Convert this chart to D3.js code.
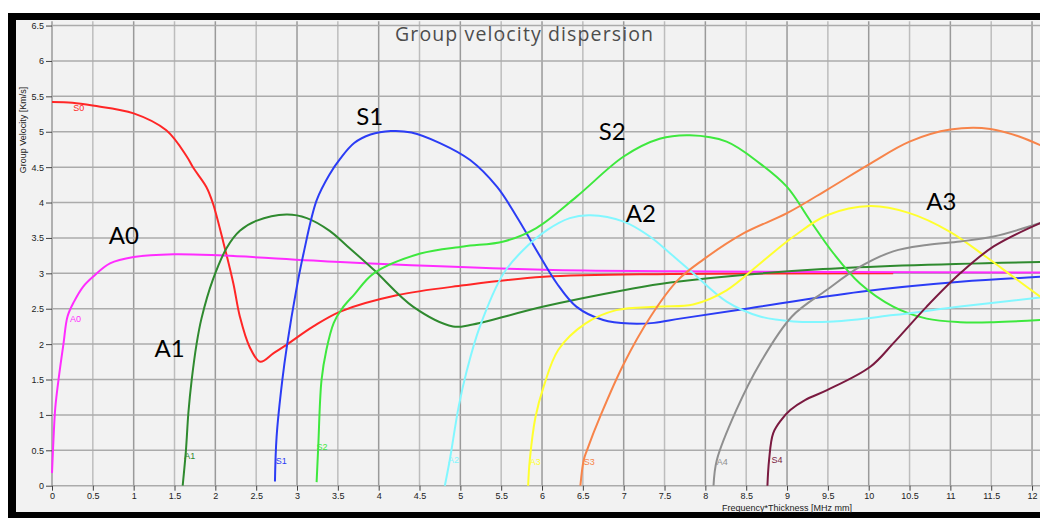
<!DOCTYPE html>
<html>
<head>
<meta charset="utf-8">
<script src="https://cdn.jsdelivr.net/npm/d3@7"></script>
<style>
  body { margin: 0; background: #fff; }
  .tick text { font-family: "Liberation Sans", Arial, sans-serif; font-size: 9px; fill: #222; }
  .tick line { stroke: #444; }
</style>
</head>
<body>
<div id="chart"></div>
<script>
// tick values
const xTicks = [0,0.5,1,1.5,2,2.5,3,3.5,4,4.5,5,5.5,6,6.5,7,7.5,8,8.5,9,9.5,10,10.5,11,11.5,12];
const yTicks = [0,0.5,1,1.5,2,2.5,3,3.5,4,4.5,5,5.5,6,6.5];

// dispersion curves, [frequency*thickness, group velocity]
const S0 = [[0,5.42],[0.25,5.41],[0.5,5.37],[1.0,5.26],[1.4,5.02],[1.65,4.65],[1.73,4.49],[1.89,4.22],[1.97,3.99],
  [2.10,3.43],[2.22,2.86],[2.30,2.39],[2.42,1.96],[2.55,1.75],[2.71,1.87],[2.87,1.99],[3.20,2.25],[3.53,2.46],
  [4.22,2.69],[5.04,2.83],[6.02,2.95],[7.57,2.99],[10.3,3.0]];
const A0 = [[0,0.18],[0.02,0.7],[0.04,1.1],[0.08,1.5],[0.14,2.0],[0.19,2.39],[0.27,2.6],[0.38,2.81],[0.51,2.96],
  [0.71,3.14],[1.0,3.23],[1.49,3.27],[2.1,3.25],[3.53,3.16],[6.02,3.05],[7.57,3.03],[12.1,3.01]];
const A1 = [[1.60,0],[1.64,0.5],[1.67,1.03],[1.71,1.49],[1.77,2.0],[1.83,2.36],[1.97,2.91],[2.14,3.36],[2.3,3.6],[2.5,3.74],
  [2.87,3.83],[3.12,3.78],[3.40,3.6],[3.6,3.4],[3.94,3.05],[4.42,2.53],[4.91,2.25],[5.12,2.27],[6.02,2.53],
  [7.0,2.76],[7.57,2.87],[9.44,3.06],[12.1,3.16]];
const S1 = [[2.73,0.06],[2.75,0.69],[2.82,1.49],[2.88,2.0],[2.99,2.76],[3.08,3.28],[3.24,4.03],[3.40,4.40],[3.53,4.62],
  [3.70,4.84],[3.9,4.96],[4.15,5.01],[4.4,4.99],[4.75,4.84],[5.12,4.6],[5.45,4.22],[5.69,3.80],[5.93,3.33],[6.18,2.86],[6.42,2.53],
  [6.75,2.34],[7.08,2.29],[7.37,2.30],[7.69,2.36],[8.5,2.5],[9.9,2.74],[11.12,2.88],[12.1,2.95]];
const S2 = [[3.24,0.05],[3.26,0.55],[3.30,1.49],[3.36,1.92],[3.45,2.3],[3.55,2.5],[3.7,2.7],[3.94,3.0],[4.51,3.28],
  [5.04,3.38],[5.53,3.45],[5.93,3.64],[6.42,4.08],[7.0,4.65],[7.44,4.9],[7.81,4.95],[8.26,4.86],[8.67,4.55],
  [9.0,4.22],[9.28,3.75],[9.57,3.28],[9.89,2.86],[10.3,2.53],[10.71,2.36],[11.12,2.31],[11.53,2.31],[12.1,2.34]];
const A2 = [[4.81,0],[4.87,0.36],[4.98,1.12],[5.08,1.63],[5.24,2.25],[5.53,3.0],[5.77,3.33],[6.06,3.61],[6.34,3.78],
  [6.59,3.82],[7.0,3.73],[7.32,3.52],[7.57,3.28],[7.85,3.0],[8.26,2.6],[8.67,2.39],[9.08,2.32],[9.57,2.32],
  [10.3,2.41],[11.12,2.53],[12.1,2.66]];
const A3 = [[5.83,0],[5.85,0.36],[5.92,0.97],[6.02,1.4],[6.2,1.92],[6.53,2.29],[6.91,2.48],[7.44,2.53],[7.85,2.56],
  [8.26,2.76],[8.67,3.14],[9.08,3.52],[9.49,3.82],[10.02,3.95],[10.5,3.85],[10.99,3.59],[11.44,3.23],
  [11.77,2.95],[12.1,2.67]];
const S3 = [[6.47,0],[6.51,0.36],[6.55,0.5],[6.72,1.0],[7.0,1.72],[7.33,2.39],[7.66,2.9],[7.97,3.19],[8.46,3.56],
  [9.0,3.85],[9.49,4.18],[10.02,4.55],[10.5,4.86],[11.0,5.03],[11.49,5.04],[11.85,4.93],[12.1,4.81]];
const A4 = [[8.10,0],[8.14,0.36],[8.38,1.07],[8.67,1.73],[9.06,2.39],[9.48,2.76],[9.89,3.09],[10.3,3.31],[10.71,3.40],
  [11.12,3.45],[11.53,3.52],[12.1,3.71]];
const S4 = [[8.76,0],[8.78,0.36],[8.83,0.74],[8.93,0.93],[9.04,1.07],[9.22,1.21],[9.49,1.35],[10.02,1.68],[10.3,2.01],
  [10.71,2.53],[11.12,3.0],[11.53,3.38],[12.1,3.71]];

const modeNames = ["S0","A0","A1","S1","S2","A2","A3","S3","A4","S4"];
const modeData = [S0, A0, A1, S1, S2, A2, A3, S3, A4, S4];
const modeColors = ["#ff2626","#ff2cff","#2f8a2f","#2b3cf5","#3ee83e","#82f7ff","#ffff2e","#f7844a","#8f8f8f","#7a1a40"];
// small label anchor next to each curve foot
const smallLabelPos = [[0.26,5.34],[0.22,2.35],[1.62,0.42],[2.74,0.35],[3.24,0.55],[4.85,0.36],[5.85,0.33],[6.51,0.33],[8.14,0.33],[8.81,0.36]];
// big annotations
const bigLabels = ["A0","A1","S1","S2","A2","A3"];
const bigLabelPos = [[0.88,3.41],[1.44,1.82],[3.89,5.09],[6.86,4.89],[7.21,3.73],[10.89,3.89]];

const W = 1040, H = 518;
const svg = d3.select("#chart").append("svg")
  .attr("width", W).attr("height", H)
  .style("display", "block");

// frame
svg.append("rect").attr("x", 0).attr("y", 0).attr("width", W).attr("height", H).attr("fill", "#fff");
svg.append("rect").attr("x", 8).attr("y", 13).attr("width", W - 8).attr("height", H - 13).attr("fill", "#000");
svg.append("rect").attr("x", 16).attr("y", 20).attr("width", W - 16).attr("height", 492).attr("fill", "#f2f2f2");

const x = d3.scaleLinear().domain([0, 12.1]).range([52, 52 + 12.1 * 81.67]);
const y = d3.scaleLinear().domain([0, 6.56]).range([485.7, 21.3]);

// grid
const grid = svg.append("g");
grid.selectAll(".vg").data(xTicks).join("line")
  .attr("x1", d => x(d)).attr("x2", d => x(d))
  .attr("y1", y(6.56)).attr("y2", y(0))
  .attr("stroke", d => d % 1 === 0 ? "#9a9a9a" : "#bdbdbd")
  .attr("stroke-width", 1.5);
grid.selectAll(".hg").data(yTicks).join("line")
  .attr("x1", x(0)).attr("x2", W)
  .attr("y1", d => y(d)).attr("y2", d => y(d))
  .attr("stroke", "#ababab")
  .attr("stroke-width", 1.5);

// axes
const fmt = d => String(d);
svg.append("g")
  .attr("transform", "translate(" + x(0) + ",0)")
  .call(d3.axisLeft(y).tickValues(yTicks).tickFormat(fmt).tickSize(6).tickPadding(2))
  .call(g => g.select(".domain").remove());
svg.append("g")
  .attr("transform", "translate(0," + y(0) + ")")
  .call(d3.axisBottom(x).tickValues(xTicks).tickFormat(fmt).tickSize(5).tickPadding(2))
  .call(g => g.select(".domain").remove());

// axis titles
svg.append("text")
  .attr("x", 787).attr("y", 511)
  .attr("text-anchor", "middle")
  .style("font-family", "Liberation Sans, Arial, sans-serif")
  .style("font-size", "9px").attr("fill", "#222")
  .text("Frequency*Thickness [MHz mm]");
svg.append("text")
  .attr("transform", "translate(26,130) rotate(-90)")
  .attr("text-anchor", "middle")
  .style("font-family", "Liberation Sans, Arial, sans-serif")
  .style("font-size", "9px").attr("fill", "#222")
  .text("Group Velocity [Km/s]");

// title
svg.append("text")
  .attr("x", 524).attr("y", 41)
  .attr("text-anchor", "middle")
  .attr("textLength", 258)
  .attr("lengthAdjust", "spacing")
  .style("font-family", "'Open Sans', Lato, sans-serif")
  .style("font-size", "19.5px").attr("fill", "#4d4d4d")
  .text("Group velocity dispersion");

// curves
const line = d3.line()
  .x(d => x(d[0])).y(d => y(d[1]))
  .curve(d3.curveCatmullRom.alpha(0.5));

const plot = svg.append("g");
plot.selectAll("path.mode").data(modeData).join("path")
  .attr("class", "mode")
  .attr("d", line)
  .attr("fill", "none")
  .attr("stroke", (d, i) => modeColors[i])
  .attr("stroke-width", 2);

// small labels
plot.selectAll("text.small").data(modeNames).join("text")
  .attr("class", "small")
  .attr("x", (d, i) => x(smallLabelPos[i][0]))
  .attr("y", (d, i) => y(smallLabelPos[i][1]))
  .attr("dy", "0.35em")
  .style("font-family", "Liberation Sans, Arial, sans-serif")
  .style("font-size", "9px")
  .attr("fill", (d, i) => modeColors[i])
  .text(d => d);

// big labels
plot.selectAll("text.big").data(bigLabels).join("text")
  .attr("class", "big")
  .attr("x", (d, i) => x(bigLabelPos[i][0]))
  .attr("y", (d, i) => y(bigLabelPos[i][1]))
  .attr("text-anchor", "middle")
  .style("font-family", "Lato, 'Open Sans', sans-serif")
  .style("font-size", "24px")
  .attr("fill", "#000")
  .text(d => d);
</script>
</body>
</html>
